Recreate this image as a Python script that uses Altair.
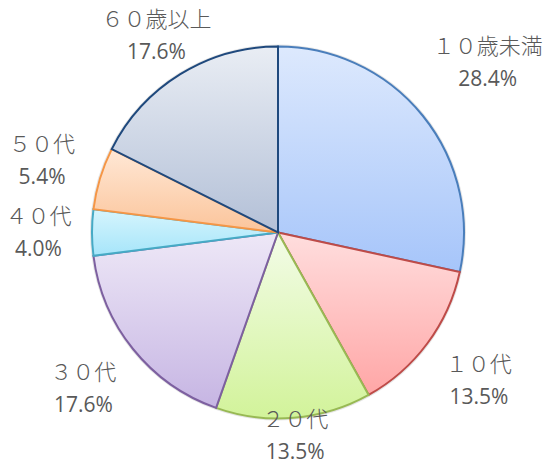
import altair as alt
import pandas as pd

# ---- data ----
categories = ["１０歳未満", "１０代", "２０代", "３０代", "４０代", "５０代", "６０歳以上"]
values = [28.4, 13.5, 13.5, 17.6, 4.0, 5.4, 17.6]

# ---- styles ----
fill_top = ["#DDE9FD", "#FFDEDE", "#F3FCE8", "#EEE8F7", "#D6F5FD", "#FFE8D6", "#E9EDF4"]
fill_bottom = ["#A6C5FA", "#FFA6A6", "#D2F39A", "#C6B5E3", "#A6E5FA", "#FBC49A", "#B3C0D7"]
strokes = ["#4A7EBB", "#BE4B48", "#98B954", "#7D60A0", "#46AAC5", "#F59646", "#1F497D"]

R = 186

df = pd.DataFrame({"cat": categories, "value": values, "idx": list(range(len(categories)))})

theta_scale = alt.Scale(domain=[0, 100])

base = (
    alt.Chart(df)
    .transform_window(cum="sum(value)", sort=[alt.SortField("idx")], frame=[None, 0])
    .transform_calculate(start="datum.cum - datum.value", end="datum.cum")
    .transform_calculate(
        mid="(datum.start + datum.end) / 2",
        ang="(datum.start + datum.end) / 200 * 2 * PI",
        pct="format(datum.value, '.1f') + '%'",
    )
    .transform_calculate(
        r0=f"{R} + 16 + 12.5 * length(datum.cat) * abs(sin(datum.ang)) + 30 * abs(cos(datum.ang))"
    )
    .transform_calculate(
        r="cos(datum.ang) < -0.05 ? min(datum.r0, 203 / (-cos(datum.ang))) : (cos(datum.ang) > 0.05 ? min(datum.r0, 197 / cos(datum.ang)) : datum.r0)"
    )
)

shadow = base.mark_arc(outerRadius=R + 2, fill="#000000", fillOpacity=0.10, dx=2, dy=3).encode(
    theta=alt.Theta("start:Q", scale=theta_scale), theta2="end:Q"
)

layers = [shadow]
for i, c in enumerate(categories):
    grad = alt.Gradient(
        gradient="linear",
        x1=0, x2=0, y1=0, y2=1,
        stops=[alt.GradientStop(color=fill_top[i], offset=0),
               alt.GradientStop(color=fill_bottom[i], offset=1)],
    )
    layers.append(
        base.transform_filter(alt.datum.cat == c)
        .mark_arc(outerRadius=R, fill=grad, stroke=strokes[i], strokeWidth=2)
        .encode(theta=alt.Theta("start:Q", scale=theta_scale), theta2="end:Q")
    )

names = base.mark_text(
    font="Noto Sans CJK JP", fontSize=22, fontWeight=300, color="#595959", dy=-16
).encode(
    theta=alt.Theta("mid:Q", scale=theta_scale),
    radius=alt.Radius("r:Q", scale=None),
    text="cat:N",
)
pcts = base.mark_text(
    font="Open Sans", fontSize=21, fontWeight=500, color="#595959", dy=17
).encode(
    theta=alt.Theta("mid:Q", scale=theta_scale),
    radius=alt.Radius("r:Q", scale=None),
    text="pct:N",
)
layers += [names, pcts]

chart = (
    alt.layer(*layers)
    .properties(width=556, height=465, padding=0,
                autosize=alt.AutoSizeParams(type="fit", contains="padding"))
    .configure_view(stroke=None)
    .configure(background="white")
)

chart.save("out.html", embed_options={"renderer": "svg", "actions": False})
